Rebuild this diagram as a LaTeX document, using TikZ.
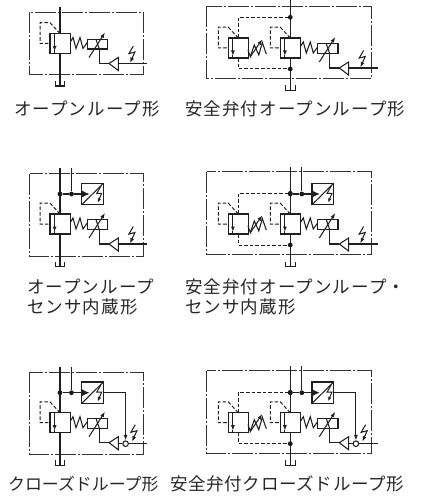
\documentclass[tikz,border=0pt]{standalone}
\usepackage{fontspec}
\usetikzlibrary{arrows.meta}
\newfontfamily\jpfont[LetterSpace=6.3]{Noto Sans CJK JP}
\newfontfamily\jpmid[LetterSpace=4]{Noto Sans CJK JP}
\newfontfamily\jptight{Noto Sans CJK JP}
\tikzset{
  x=1pt,y=-1pt,
  ln/.style={line width=1.05pt,color=black!88},
  pil/.style={line width=1pt,color=black!88,dash pattern=on 3.6pt off 2pt},
  fr/.style={line width=0.9pt,color=black!80,dash pattern=on 21pt off 2pt on 2pt off 2pt},
  hd/.style={-{Latex[length=5.5pt,width=4pt]}},
  dotn/.style={circle,fill=black!90,inner sep=0pt,minimum size=4.8pt},
  ringn/.style={circle,draw=black!88,fill=white,line width=1.05pt,inner sep=0pt,minimum size=5.6pt},
  lab/.style={anchor=base west,inner sep=0pt,font=\jpfont\fontsize{17.5}{19}\selectfont,text=black!85},
  labm/.style={anchor=base west,inner sep=0pt,font=\jpmid\fontsize{17.5}{19}\selectfont,text=black!85},
  labt/.style={anchor=base west,inner sep=0pt,font=\jptight\fontsize{16.9}{19}\selectfont,text=black!85}
}
\newcommand{\ValveBody}{%
  \draw[ln] (-10,0) rectangle (10.6,20);
  \draw[ln,hd] (-5.4,0) -- (-5.4,18);
  \draw[ln] (-5.4,17) -- (-5.4,20);
  \draw[pil] (0,0) -- (-10,-10.8) -- (-20,-10.8) -- (-20,10) -- (-10,10);
}
\newcommand{\MainValve}[1]{%
  \ValveBody
  \draw[ln] (0,#1) -- (0,0);
  \draw[ln] (0,20) -- (0,52.5);
  \draw[ln] (-4.5,47.5) -- (-4.5,52.5) -- (4.8,52.5) -- (4.8,47.5);
  \draw[ln] (10.6,8) -- (13,4) -- (16,15) -- (20,4) -- (23,15) -- (27.3,9);
  \draw[ln] (27.3,5.8) rectangle (47.7,15.5);
  \draw[ln] (36,5.8) -- (39.3,15.5);
  \draw[ln,hd] (29,24) -- (45,-1);
  \draw[ln] (39.3,15.5) -- (39.3,30) -- (49,30);
  \draw[ln] (49,30) -- (58.3,24) -- (58.3,37) -- cycle;
}
\newcommand{\Bolt}[1]{%
  \draw[ln,-{Latex[length=5.5pt,width=4pt]}] (#1) ++(1.8,-17) -- ++(-4.4,7.6) -- ++(6,-1.6) -- ++(-4.9,11);
}
\newcommand{\OpenInput}{%
  \draw[ln] (58.3,30) -- (87.3,30);
  \coordinate (boltOpen) at (71.5,29.5);
  \Bolt{boltOpen}
}
\newcommand{\Relief}{%
  \begin{scope}[xshift=-52pt]
    \ValveBody
    \draw[ln] (9.7,12) -- (12,18.7) -- (16,7) -- (20.5,17) -- (24,4.5) -- (28,16);
    \draw[ln,hd] (12,18.7) -- (24,1.3);
  \end{scope}
}
\newcommand{\ReliefLines}[1]{%
  \coordinate (rTop) at (-52,0);
  \coordinate (rBot) at (-52,20);
  \node[dotn] (dotA) at (0,#1) {};
  \node[dotn] (dotB) at (0,31) {};
  \draw[pil] (rTop) -- (rTop |- dotA) -- (dotA);
  \draw[pil] (rBot) -- (rBot |- dotB) -- (dotB);
}
\newcommand{\Sensor}[1]{%
  \node[dotn] (dotM) at (0,-20) {};
  \node[dotn] (dotS) at (11.5,-20) {};
  \coordinate (topS) at (11.5,#1);
  \node[draw=black!88,line width=1.05pt,minimum width=21.6pt,minimum height=21.4pt,inner sep=0pt,outer sep=0pt] (sens) at (32.5,-20) {};
  \draw[ln] (topS) -- (dotS);
  \draw[ln] (dotM) -- (dotS);
  \draw[ln,-{Latex[length=7.5pt,width=7pt]}] (dotS) -- (29.5,-20);
  \draw[ln] (sens.south west) -- (sens.north east);
  \draw[line width=1pt,color=black!88,-{Latex[length=4.5pt,width=3.4pt]}] (41,-28) -- (36.8,-20.7) -- (41.7,-20.7) -- (37.7,-11.3);
}
\newcommand{\ClosedInput}{%
  \node[ringn] (ring) at (65.6,31) {};
  \coordinate (inEnd) at (87.3,31);
  \coordinate (triBase) at (58.3,31);
  \draw[ln] (triBase) -- (ring);
  \draw[ln] (ring) -- (inEnd);
  \draw[ln,-{Latex[length=5.5pt,width=4pt]}] (sens.east) -| (ring.north);
  \coordinate (boltClosed) at (73.5,29);
  \Bolt{boltClosed}
}
\begin{document}
\begin{tikzpicture}
\useasboundingbox (0,0) rectangle (420,497);
\draw[fr] (29.5,12.5) rectangle (143,74);
\begin{scope}[shift={(60,33.5)}]
  \MainValve{-26.5}\OpenInput
\end{scope}
\draw[fr] (206.7,6.3) rectangle (371.3,78.7);
\begin{scope}[shift={(290.3,38)}]
  \MainValve{-38}\OpenInput\Relief\ReliefLines{-20.7}
\end{scope}
\draw[fr] (29.5,173.7) rectangle (143,256);
\begin{scope}[shift={(60,214)}]
  \MainValve{-45.7}\OpenInput\Sensor{-45.7}
\end{scope}
\draw[fr] (206.7,171.7) rectangle (371.3,254.7);
\begin{scope}[shift={(290.3,214)}]
  \MainValve{-46.7}\OpenInput\Relief\ReliefLines{-20.7}\Sensor{-46.7}
\end{scope}
\draw[fr] (29.5,372.3) rectangle (143,454.7);
\begin{scope}[shift={(60,412.7)}]
  \MainValve{-45.4}\Sensor{-45.4}\ClosedInput
\end{scope}
\draw[fr] (206.7,370.7) rectangle (371.3,453.7);
\begin{scope}[shift={(290.3,412.7)}]
  \MainValve{-46.7}\Relief\ReliefLines{-20.4}\Sensor{-46.7}\ClosedInput
\end{scope}
\node[lab] (l1) at (14,116) {オープンループ形};
\node[lab] (l2) at (185,116) {安全弁付オープンループ形};
\node[lab] (l3) at (27,293) {オープンループ};
\node[lab] (l4) at (27,313) {センサ内蔵形};
\node[lab] (l5) at (185,293) {安全弁付オープンループ・};
\node[lab] (l6) at (185,313) {センサ内蔵形};
\node[labt] (l7) at (8,490) {クローズドループ形};
\node[labm] (l8) at (170,490) {安全弁付クローズドループ形};
\end{tikzpicture}
\end{document}
